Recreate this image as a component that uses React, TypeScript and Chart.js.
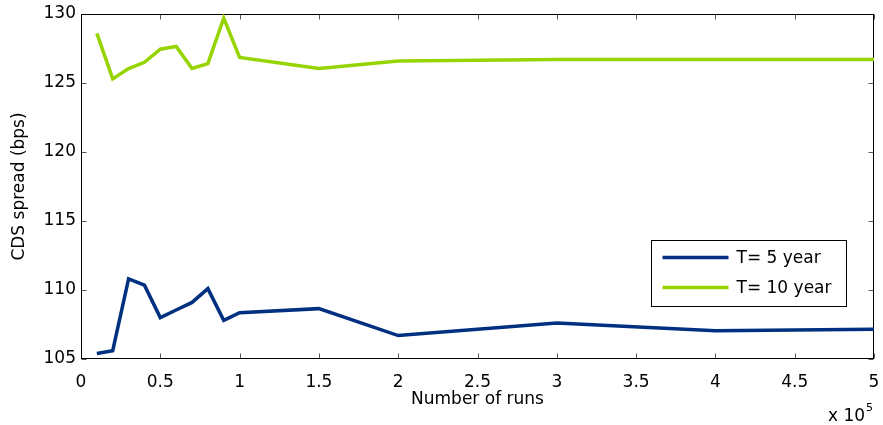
import React, { useEffect, useRef } from "react";
import { Chart, registerables } from "chart.js";

Chart.register(...registerables);

// Number of runs (in units of 10^5)
const runs = [0.1, 0.2, 0.3, 0.4, 0.5, 0.6, 0.7, 0.8, 0.9, 1.0, 1.5, 2, 3, 4, 5];
// CDS spread (bps), T = 5 year
const spread5y = [105.4, 105.6, 110.8, 110.35, 108.0, 108.55, 109.1, 110.1, 107.8, 108.35, 108.65, 106.7, 107.6, 107.05, 107.15];
// CDS spread (bps), T = 10 year
const spread10y = [128.6, 125.3, 126.05, 126.5, 127.45, 127.65, 126.05, 126.4, 129.7, 126.85, 126.05, 126.6, 126.7, 126.7, 126.7];

const seriesLabels = ["T= 5 year", "T= 10 year"];
const seriesColors = ["#00307f", "#96d400"];
const xAxisTitle = "Number of runs";
const yAxisTitle = "CDS spread (bps)";
const xExponentBase = "x 10";
const xExponent = "5";

const FONT = '"DejaVu Sans", sans-serif';
const FONT_SIZE = 17;

const framePlugin = {
  id: "frame",
  beforeDatasetsDraw(chart: any) {
    const { ctx, chartArea: a, scales } = chart;
    const L = Math.round(a.left) + 0.5;
    const R = Math.round(a.right) - 0.5;
    const T = Math.round(a.top) + 0.5;
    const B = Math.round(a.bottom) - 0.5;
    ctx.save();
    ctx.lineWidth = 1;
    ctx.strokeStyle = "#555";
    const tl = 5;
    scales.x.ticks.forEach((t: any) => {
      const px = Math.round(scales.x.getPixelForValue(t.value)) + 0.5;
      ctx.beginPath();
      ctx.moveTo(px, B);
      ctx.lineTo(px, B - tl);
      ctx.moveTo(px, T);
      ctx.lineTo(px, T + tl);
      ctx.stroke();
    });
    scales.y.ticks.forEach((t: any) => {
      const py = Math.round(scales.y.getPixelForValue(t.value)) + 0.5;
      ctx.beginPath();
      ctx.moveTo(L, py);
      ctx.lineTo(L + tl, py);
      ctx.moveTo(R, py);
      ctx.lineTo(R - tl, py);
      ctx.stroke();
    });
    ctx.strokeStyle = "#000";
    ctx.strokeRect(L, T, R - L, B - T);
    ctx.restore();
  },
  afterDraw(chart: any) {
    const { ctx, chartArea: a } = chart;
    ctx.save();
    // legend
    const bx = Math.round(a.right) - 222.5;
    const by = Math.round(a.bottom) - 118.5;
    const bw = 195;
    const bh = 66;
    ctx.fillStyle = "#fff";
    ctx.fillRect(bx, by, bw, bh);
    ctx.strokeStyle = "#000";
    ctx.lineWidth = 1;
    ctx.strokeRect(bx, by, bw, bh);
    ctx.font = `${FONT_SIZE}px ${FONT}`;
    ctx.textBaseline = "middle";
    ctx.textAlign = "left";
    chart.data.datasets.forEach((ds: any, i: number) => {
      const y = by + 17 + i * 30;
      ctx.strokeStyle = ds.borderColor;
      ctx.lineWidth = ds.borderWidth;
      ctx.beginPath();
      ctx.moveTo(bx + 11, y);
      ctx.lineTo(bx + 77, y);
      ctx.stroke();
      ctx.fillStyle = "#000";
      ctx.fillText(ds.label, bx + 85, y + 1);
    });
    // exponent label
    ctx.fillStyle = "#000";
    ctx.textBaseline = "alphabetic";
    ctx.font = `${FONT_SIZE}px ${FONT}`;
    const ex = 828;
    const ey = 421;
    ctx.fillText(xExponentBase, ex, ey);
    const w = ctx.measureText(xExponentBase).width;
    ctx.font = `11px ${FONT}`;
    ctx.fillText(xExponent, ex + w + 1, ey - 10);
    ctx.restore();
  },
};

export default function App() {
  const ref = useRef<HTMLCanvasElement | null>(null);
  useEffect(() => {
    document.body.style.margin = "0";
    const canvas = ref.current;
    if (!canvas) return;
    const chart = new Chart(canvas, {
      type: "line",
      data: {
        datasets: [spread5y, spread10y].map((vals, i) => ({
          label: seriesLabels[i],
          data: runs.map((r, j) => ({ x: r, y: vals[j] })),
          borderColor: seriesColors[i],
          backgroundColor: seriesColors[i],
          borderWidth: 3.5,
          pointRadius: 0,
          tension: 0,
          fill: false,
          borderJoinStyle: "miter" as const,
        })),
      },
      options: {
        responsive: false,
        animation: false,
        devicePixelRatio: 1,
        layout: { padding: { top: 14, right: 9, left: 0, bottom: 0 } },
        plugins: {
          legend: { display: false },
          tooltip: { enabled: false },
        },
        scales: {
          x: {
            type: "linear",
            min: 0,
            max: 5,
            grid: { display: false, drawTicks: true, tickLength: 13 },
            border: { display: false },
            ticks: {
              stepSize: 0.5,
              autoSkip: false,
              maxRotation: 0,
              padding: 0,
              color: "#000",
              font: { family: FONT, size: FONT_SIZE },
              callback: (v: any) => String(Math.round(Number(v) * 10) / 10),
            },
            title: {
              display: true,
              text: xAxisTitle,
              color: "#000",
              font: { family: FONT, size: FONT_SIZE },
              padding: { top: 0, bottom: 15 },
            },
            afterFit: (s: any) => {
              s.height = 66;
            },
          },
          y: {
            type: "linear",
            min: 105,
            max: 130,
            grid: { display: false, drawTicks: true, tickLength: 5 },
            border: { display: false },
            ticks: {
              stepSize: 5,
              autoSkip: false,
              padding: 0,
              color: "#000",
              font: { family: FONT, size: FONT_SIZE },
            },
            title: {
              display: true,
              text: yAxisTitle,
              color: "#000",
              font: { family: FONT, size: FONT_SIZE },
              padding: { top: 9, bottom: 0 },
            },
            afterFit: (s: any) => {
              s.width = 81;
            },
          },
        },
      },
      plugins: [framePlugin],
    });
    return () => chart.destroy();
  }, []);
  return (
    <div style={{ width: 883, height: 425 }}>
      <canvas ref={ref} width={883} height={425} style={{ display: "block", width: 883, height: 425 }} />
    </div>
  );
}
